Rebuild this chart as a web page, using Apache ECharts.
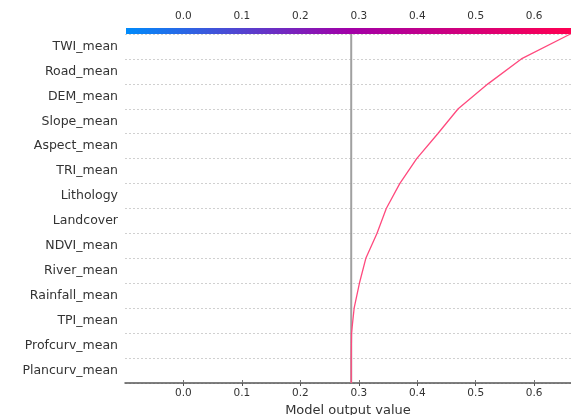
<!DOCTYPE html>
<html style="height: 100%">
<head>
<meta charset="utf-8">
</head>
<body style="height: 100%; margin: 0; background: #fff">
<div id="container" style="width: 571px; height: 415px"></div>
<script src="https://cdn.jsdelivr.net/npm/echarts@6/dist/echarts.min.js"></script>
<script>
// features, bottom to top (as in the decision plot)
var features = ['Plancurv_mean', 'Profcurv_mean', 'TPI_mean', 'Rainfall_mean', 'River_mean',
    'NDVI_mean', 'Landcover', 'Lithology', 'TRI_mean', 'Aspect_mean', 'Slope_mean',
    'DEM_mean', 'Road_mean', 'TWI_mean'];
// cumulative model output at each row boundary, bottom (0) to top (14)
var cumOutput = [0.287, 0.287, 0.2875, 0.292, 0.301, 0.312, 0.331, 0.347,
    0.370, 0.399, 0.435, 0.470, 0.521, 0.578, 0.662];
var baseValue = 0.287;
var xTicks = [0.0, 0.1, 0.2, 0.3, 0.4, 0.5, 0.6];

var lineData = cumOutput.map(function (v, i) { return [v, i]; });
var baseData = [[baseValue, 0], [baseValue, features.length]];

var myChart = echarts.init(document.getElementById('container'));

function tickFmt(v) {
    return xTicks.indexOf(Math.round(v * 10) / 10) >= 0 && v > -0.05 ? v.toFixed(1) : '';
}

var option = {
    animation: false,
    grid: { left: 125, right: 0, top: 34, bottom: 32, outerBoundsMode: 'none', containLabel: false },
    graphic: [{
        type: 'rect',
        left: 126, top: 28,
        shape: { width: 445, height: 6 },
        style: {
            fill: new echarts.graphic.LinearGradient(0, 0, 1, 0, [
                { offset: 0, color: '#008bfb' },
                { offset: 0.5, color: '#a100a8' },
                { offset: 1, color: '#ff0052' }
            ])
        },
        z: 1
    }],
    xAxis: [{
        type: 'value',
        min: -0.1, max: 0.663, interval: 0.1,
        name: 'Model output value',
        nameLocation: 'middle', nameGap: 20,
        nameTextStyle: { color: '#333', fontSize: 13, fontFamily: 'DejaVu Sans' },
        axisLine: { show: true, onZero: false, lineStyle: { color: '#555', width: 1.5 } },
        axisTick: { show: true, length: 3, lineStyle: { color: '#555' } },
        axisLabel: {
            color: '#333', fontSize: 10.5, fontFamily: 'DejaVu Sans', margin: 5,
            showMinLabel: false, showMaxLabel: false,
            formatter: tickFmt
        },
        splitLine: { show: false }
    }, {
        type: 'value', position: 'top',
        min: -0.1, max: 0.663, interval: 0.1,
        offset: 6,
        axisLine: { show: false },
        axisTick: { show: true, length: 3, lineStyle: { color: '#777' } },
        axisLabel: {
            color: '#333', fontSize: 10.5, fontFamily: 'DejaVu Sans', margin: 6,
            showMinLabel: false, showMaxLabel: false,
            formatter: tickFmt
        },
        splitLine: { show: false }
    }],
    yAxis: [{
        type: 'category',
        data: features,
        axisLine: { show: false },
        axisTick: { show: false },
        axisLabel: { color: '#333', fontSize: 12.5, fontFamily: 'DejaVu Sans', margin: 7 },
        splitLine: { show: true, lineStyle: { color: '#d0d0d0', type: [2, 2], width: 1 } }
    }, {
        type: 'value', min: 0, max: features.length, show: false
    }],
    series: [{
        type: 'line',
        xAxisIndex: 0, yAxisIndex: 1,
        data: baseData,
        symbol: 'none',
        lineStyle: { color: '#a0a0a0', width: 2 },
        z: 2
    }, {
        type: 'line',
        xAxisIndex: 0, yAxisIndex: 1,
        data: lineData,
        symbol: 'none',
        lineStyle: { color: '#ff4a7e', width: 1.3 },
        z: 3
    }]
};
myChart.setOption(option);
</script>
</body>
</html>
